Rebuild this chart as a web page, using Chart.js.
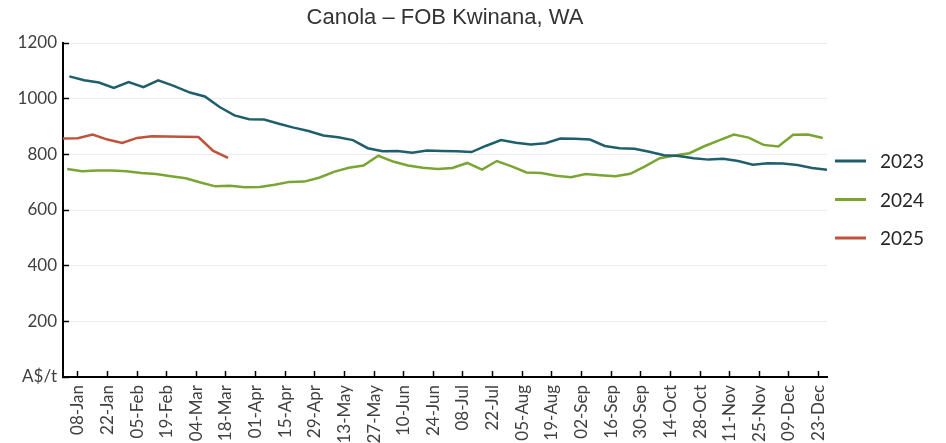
<!DOCTYPE html>
<html>
<head>
<meta charset="utf-8">
<script src="https://cdn.jsdelivr.net/npm/chart.js@4.4.1/dist/chart.umd.min.js"></script>
<style>
  html, body { margin: 0; padding: 0; background: #fff; }
</style>
</head>
<body>
<canvas id="chartCanola" width="946" height="443"></canvas>
<script>
// --- DATOS ---
const titulo = 'Canola – FOB Kwinana, WA';
const etiquetasX = ['08-Jan','22-Jan','05-Feb','19-Feb','04-Mar','18-Mar','01-Apr','15-Apr','29-Apr','13-May','27-May','10-Jun','24-Jun',
  '08-Jul','22-Jul','05-Aug','19-Aug','02-Sep','16-Sep','30-Sep','14-Oct','28-Oct','11-Nov','25-Nov','09-Dec','23-Dec'];
const ticksY = [0, 200, 400, 600, 800, 1000, 1200];
const unidadY = 'A$/t';

const series = ['2023', '2024', '2025'];
const colores = ['#1f5f6b', '#7aa533', '#bf523b'];

const fechas2023 = ['04-Jan','11-Jan','18-Jan','25-Jan','01-Feb','08-Feb','15-Feb','22-Feb','01-Mar','08-Mar','15-Mar','22-Mar','29-Mar',
  '05-Apr','12-Apr','19-Apr','26-Apr','03-May','10-May','17-May','24-May','31-May','07-Jun','14-Jun','21-Jun','28-Jun',
  '05-Jul','12-Jul','19-Jul','26-Jul','02-Aug','09-Aug','16-Aug','23-Aug','30-Aug','06-Sep','13-Sep','20-Sep','27-Sep',
  '04-Oct','11-Oct','18-Oct','25-Oct','01-Nov','08-Nov','15-Nov','22-Nov','29-Nov','06-Dec','13-Dec','20-Dec','27-Dec'];
const precios2023 = [1080,1066,1058,1039,1060,1041,1066,1047,1022,1008,970,940,926,925,910,896,884,868,861,851,
  822,811,812,806,814,812,811,808,831,851,842,835,840,857,856,853,830,822,820,809,
  797,794,786,781,784,776,763,768,767,762,751,745];

const fechas2024 = ['03-Jan','10-Jan','17-Jan','24-Jan','31-Jan','07-Feb','14-Feb','21-Feb','28-Feb','06-Mar','13-Mar','20-Mar','27-Mar',
  '03-Apr','10-Apr','17-Apr','24-Apr','01-May','08-May','15-May','22-May','29-May','05-Jun','12-Jun','19-Jun','26-Jun',
  '03-Jul','10-Jul','17-Jul','24-Jul','31-Jul','07-Aug','14-Aug','21-Aug','28-Aug','04-Sep','11-Sep','18-Sep','25-Sep',
  '02-Oct','09-Oct','16-Oct','23-Oct','30-Oct','06-Nov','13-Nov','20-Nov','27-Nov','04-Dec','11-Dec','18-Dec','25-Dec'];
const precios2024 = [747,739,742,742,739,733,729,721,714,699,685,687,682,683,691,701,702,716,737,752,
  760,795,774,760,752,747,751,769,745,776,757,735,733,723,718,729,725,721,730,757,
  786,796,804,829,850,871,860,834,828,870,871,859];

const fechas2025 = ['01-Jan','08-Jan','15-Jan','22-Jan','29-Jan','05-Feb','12-Feb','19-Feb','26-Feb','05-Mar','12-Mar','19-Mar'];
const precios2025 = [857,858,871,853,841,859,865,864,863,862,812,787];

// --- FECHAS A DIA DEL ANIO (calendario comun 2024) ---
const MESES = { Jan:0, Feb:1, Mar:2, Apr:3, May:4, Jun:5, Jul:6, Aug:7, Sep:8, Oct:9, Nov:10, Dec:11 };
function diaDelAnio(etiqueta) {
  const [d, m] = etiqueta.split('-');
  return (Date.UTC(2024, MESES[m], +d) - Date.UTC(2024, 0, 0)) / 86400000;
}
function puntos(fechas, valores) {
  return fechas.map((f, i) => ({ x: diaDelAnio(f), y: valores[i] }));
}

const diasEtiqueta = etiquetasX.map(diaDelAnio);
const fechasSerie = [fechas2023, fechas2024, fechas2025];
const preciosSerie = [precios2023, precios2024, precios2025];

const fuenteEjes = { family: 'Lato', size: 17 };
const colorTexto = '#404040';

// --- TITULO CENTRADO SOBRE EL AREA DEL GRAFICO ---
const tituloCentrado = {
  id: 'tituloCentrado',
  afterDraw(chart) {
    const { ctx, chartArea } = chart;
    ctx.save();
    ctx.fillStyle = '#333';
    ctx.font = '22px "Liberation Sans"';
    ctx.textAlign = 'center';
    ctx.textBaseline = 'middle';
    ctx.fillText(titulo, (chartArea.left + chartArea.right) / 2, 18);
    ctx.restore();
  }
};

// --- LEYENDA A LA DERECHA ---
const leyendaDerecha = {
  id: 'leyendaDerecha',
  afterDraw(chart) {
    const { ctx, chartArea } = chart;
    const x0 = chartArea.right + 8;
    const yMid = (chartArea.top + chartArea.bottom) / 2 - 10.5;
    ctx.save();
    chart.data.datasets.forEach((ds, i) => {
      const y = yMid + (i - 1) * 38.5;
      ctx.strokeStyle = ds.borderColor;
      ctx.lineWidth = 3;
      ctx.beginPath();
      ctx.moveTo(x0, y);
      ctx.lineTo(x0 + 31, y);
      ctx.stroke();
      ctx.fillStyle = '#262626';
      ctx.font = '19px Lato';
      ctx.textBaseline = 'middle';
      ctx.textAlign = 'left';
      ctx.fillText(ds.label, x0 + 45, y + 1);
    });
    ctx.restore();
  }
};

new Chart(document.getElementById('chartCanola'), {
  type: 'line',
  data: {
    datasets: series.map((s, i) => ({
      label: s,
      data: puntos(fechasSerie[i], preciosSerie[i]),
      borderColor: colores[i],
      backgroundColor: colores[i],
      borderWidth: 2.5,
      pointRadius: 0,
      tension: 0,
      fill: false
    }))
  },
  options: {
    responsive: false,
    animation: false,
    layout: { padding: { left: 0, right: 119, top: 43, bottom: 0 } },
    scales: {
      x: {
        type: 'linear',
        min: 1,
        max: 362,
        afterBuildTicks: s => { s.ticks = diasEtiqueta.map(v => ({ value: v })); },
        afterFit: s => { s.height = 66; },
        ticks: {
          autoSkip: false,
          minRotation: 90,
          maxRotation: 90,
          padding: 14,
          font: fuenteEjes,
          color: colorTexto,
          callback: v => etiquetasX[diasEtiqueta.indexOf(v)]
        },
        grid: { drawOnChartArea: false, tickLength: -6, tickColor: '#000', tickWidth: 1.5 },
        border: { color: '#000', width: 2 }
      },
      y: {
        min: 0,
        max: 1200,
        afterBuildTicks: s => { s.ticks = ticksY.map(v => ({ value: v })); },
        afterFit: s => { s.width = 63; },
        ticks: {
          padding: 12,
          font: fuenteEjes,
          color: colorTexto,
          callback: v => v === 0 ? unidadY : v
        },
        grid: { color: '#ececec', lineWidth: 1, tickLength: -6, tickColor: '#000', tickWidth: 1.5 },
        border: { color: '#000', width: 2 }
      }
    },
    plugins: {
      legend: { display: false },
      tooltip: { enabled: false },
      title: { display: false }
    }
  },
  plugins: [tituloCentrado, leyendaDerecha]
});
</script>
</body>
</html>
